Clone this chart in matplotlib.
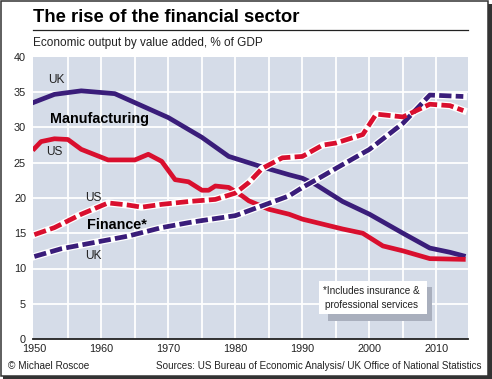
import matplotlib
matplotlib.use("Agg")
import matplotlib.pyplot as plt
from matplotlib.patches import Rectangle
from matplotlib.lines import Line2D

# datos (% del PBI)
uk_mfg_years = [1950, 1953, 1957, 1962, 1966, 1970, 1975, 1979, 1984, 1988, 1990, 1992, 1996, 2000, 2005, 2009, 2012, 2014]
uk_mfg_vals = [33.6, 34.7, 35.2, 34.8, 33.1, 31.4, 28.6, 25.9, 24.4, 23.3, 22.8, 21.9, 19.5, 17.7, 15.0, 12.9, 12.3, 11.8]

us_mfg_years = [1950, 1951, 1953, 1955, 1957, 1961, 1965, 1967, 1969, 1971, 1973, 1975, 1976, 1977, 1979, 1981,
                1982, 1985, 1988, 1990, 1993, 1996, 1999, 2002, 2005, 2009, 2014]
us_mfg_vals = [27.0, 28.0, 28.4, 28.3, 26.9, 25.4, 25.4, 26.2, 25.2, 22.6, 22.3, 21.1, 21.1, 21.7, 21.5, 20.3,
               19.6, 18.4, 17.7, 17.0, 16.3, 15.6, 15.0, 13.2, 12.5, 11.4, 11.3]

us_fin_years = [1950, 1953, 1957, 1961, 1964, 1966, 1969, 1973, 1977, 1980, 1982, 1984, 1987, 1990, 1993, 1995,
                1999, 2001, 2005, 2009, 2012, 2014]
us_fin_vals = [14.8, 15.8, 17.7, 19.3, 19.0, 18.7, 19.1, 19.5, 19.8, 20.7, 22.2, 24.2, 25.7, 25.9, 27.5, 27.8,
               29.0, 31.9, 31.5, 33.3, 33.1, 32.4]

uk_fin_years = [1950, 1954, 1959, 1964, 1969, 1973, 1975, 1980, 1984, 1988, 1990, 1993, 1995, 2000, 2005, 2009, 2014]
uk_fin_vals = [11.7, 12.8, 13.7, 14.6, 15.8, 16.5, 16.8, 17.5, 18.9, 20.3, 21.5, 23.1, 24.2, 26.9, 30.6, 34.6, 34.4]

x_ticks = [1950, 1960, 1970, 1980, 1990, 2000, 2010]
y_ticks = [0, 5, 10, 15, 20, 25, 30, 35, 40]

purpura = '#3a1d7a'
rojo = '#d90f2e'
fondo = '#d5dce8'

NARROW = ['Liberation Sans Narrow', 'Liberation Sans', 'DejaVu Sans']
SANS = ['Liberation Sans', 'DejaVu Sans']

fig = plt.figure(figsize=(4.92, 3.79), dpi=100)
W, H = 492, 379

# ejes ubicados en pixeles
ax = fig.add_axes([33 / W, 1 - 339 / H, (468 - 33) / W, (339 - 57) / H])
ax.set_facecolor(fondo)
ax.set_xlim(1949.8, 2014.7)
ax.set_ylim(0, 40)

for x in range(1955, 2015, 5):
    ax.axvline(x, color='white', lw=1.3, zorder=1)
for y in y_ticks[1:-1]:
    ax.axhline(y, color='white', lw=1.3, zorder=1)

for s in ['top', 'right', 'left']:
    ax.spines[s].set_visible(False)
ax.spines['bottom'].set_color('#222222')
ax.spines['bottom'].set_linewidth(1.3)

ax.set_xticks(x_ticks)
ax.set_yticks(y_ticks)
ax.tick_params(length=0, pad=5)
for lab in ax.get_xticklabels() + ax.get_yticklabels():
    lab.set_family(SANS)
    lab.set_fontsize(7.8)
    lab.set_color('#222222')
ax.tick_params(axis='x', pad=3.5)

# manufactura: lineas solidas
ax.plot(uk_mfg_years, uk_mfg_vals, color=purpura, lw=3.4, solid_joinstyle='round', zorder=3)
ax.plot(us_mfg_years, us_mfg_vals, color=rojo, lw=3.4, solid_joinstyle='round', zorder=3)

# finanzas: punteadas con borde blanco
for yrs, vals, col in [(uk_fin_years, uk_fin_vals, purpura), (us_fin_years, us_fin_vals, rojo)]:
    ax.plot(yrs, vals, color='white', lw=5.2, solid_joinstyle='round', zorder=4)
    ax.plot(yrs, vals, color=col, lw=3.4, dashes=(2.6, 0.9), dash_capstyle='butt', zorder=5)

# etiquetas
lbl = dict(family=NARROW, fontsize=8.6, color='#222222', ha='center', va='center', zorder=6)
ax.text(1953.3, 36.7, 'UK', **lbl)
ax.text(1953.0, 26.5, 'US', **lbl)
ax.text(1958.8, 20.0, 'US', **lbl)
ax.text(1958.8, 11.8, 'UK', **lbl)
ax.text(1952.3, 31.2, 'Manufacturing', family=SANS, fontsize=10.4, fontweight='bold', color='black',
        ha='left', va='center', zorder=6)
ax.text(1957.8, 16.2, 'Finance*', family=SANS, fontsize=10.4, fontweight='bold', color='black',
        ha='left', va='center', zorder=6)

# cajita de nota con sombra
ax.add_patch(Rectangle((1993.8, 2.55), 15.6, 4.85, facecolor='#a9afbd', edgecolor='none', zorder=6))
ax.add_patch(Rectangle((1992.4, 3.5), 16.2, 4.7, facecolor='white', edgecolor='none', zorder=7))
ax.text(2000.3, 5.85, '*Includes insurance &\nprofessional services', family=SANS, fontsize=7.2,
        color='#222222', ha='center', va='center', linespacing=1.45, zorder=8)

# titulos y textos de la figura
fig.text(33 / W, 1 - 17 / H, 'The rise of the financial sector', family=SANS, fontsize=13.3,
         fontweight='bold', color='black', ha='left', va='center')
fig.add_artist(Line2D([33 / W, 468 / W], [1 - 30 / H, 1 - 30 / H], color='#222222', lw=0.9))
fig.text(33 / W, 1 - 43 / H, 'Economic output by value added, % of GDP', family=SANS, fontsize=8.5,
         color='#222222', ha='left', va='center')
fig.text(8 / W, 1 - 366 / H, '\u00a9 Michael Roscoe', family=SANS, fontsize=7.2, color='#222222',
         ha='left', va='center')
fig.text(482 / W, 1 - 366 / H, 'Sources: US Bureau of Economic Analysis/ UK Office of National Statistics',
         family=SANS, fontsize=7.1, color='#222222', ha='right', va='center')

# marco con sombra
fig.add_artist(Rectangle((0.7 / W, 3.5 / H), 487 / W, 374.8 / H, transform=fig.transFigure,
                         facecolor='none', edgecolor='#333333', lw=1.1))
fig.add_artist(Rectangle((488 / W, 0), 4 / W, 375 / H, transform=fig.transFigure,
                         facecolor='#333333', edgecolor='none'))
fig.add_artist(Rectangle((3 / W, 0), 489 / W, 3.5 / H, transform=fig.transFigure,
                         facecolor='#333333', edgecolor='none'))

plt.savefig('out.png', dpi=100)
plt.close()
